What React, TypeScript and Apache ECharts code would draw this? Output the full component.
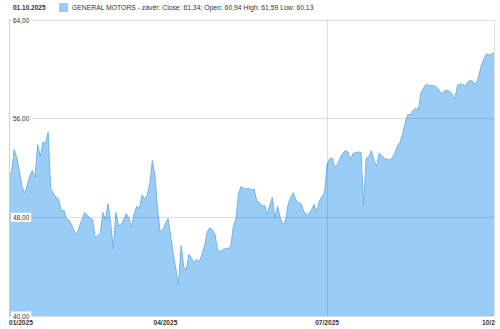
import React, { useEffect, useRef } from "react";
import * as echarts from "echarts";

// Trading calendar (NYSE holidays in the period)
const START_DATE = "2025-01-02";
const END_DATE = "2025-10-01";
const HOLIDAYS = ["2025-01-09", "2025-01-20", "2025-02-17", "2025-04-18", "2025-05-26", "2025-06-19", "2025-07-04", "2025-09-01"];

// Dates whose month label is shown, and dates carrying a vertical grid line
const LABEL_DATES = ["2025-01-02", "2025-04-01", "2025-07-01", "2025-10-01"];
const VLINE_DATES = ["2025-07-01", "2025-10-01"];

// Daily close, GENERAL MOTORS
const closes = [
  51.4, 51.7, 53.5, 52.8, 51.7, 50.5, 49.95, 50.6, 51.4, 51.8,
  51.2, 53.9, 52.9, 54.1, 54.0, 54.9, 50.3, 50.0, 49.6, 49.5,
  48.5, 48.6, 47.9, 47.8, 47.4, 46.9, 46.6, 47.3, 47.8, 48.4,
  48.2, 47.9, 47.85, 46.4, 46.5, 46.7, 48.4, 47.8, 49.1, 47.5,
  45.4, 48.4, 47.3, 47.4, 47.8, 48.3, 47.9, 47.2, 48.3, 48.9,
  48.7, 49.8, 49.5, 49.8, 50.7, 52.6, 51.3, 48.6, 46.8, 47.0,
  47.5, 47.9, 46.5, 45.0, 43.8, 42.5, 45.7, 44.0, 43.7, 45.0,
  44.7, 44.3, 44.6, 44.4, 45.0, 45.7, 46.8, 47.15, 47.0, 46.6,
  45.35, 45.2, 45.4, 45.45, 45.5, 45.55, 47.2, 47.8, 49.9, 50.5,
  50.35, 50.3, 50.35, 50.2, 50.3, 49.35, 49.2, 48.9, 49.0, 48.2,
  49.0, 49.6, 47.9, 48.9, 48.0, 47.4, 47.7, 49.0, 49.6, 50.0,
  49.4, 49.2, 49.1, 48.5, 48.2, 48.3, 48.6, 49.05, 48.4, 49.3,
  49.7, 50.0, 52.3, 52.75, 52.8, 52.0, 52.3, 52.8, 53.2, 53.4,
  53.3, 52.7, 53.2, 53.25, 53.3, 53.25, 49.0, 52.8, 52.9, 53.4,
  52.6, 52.15, 53.2, 53.0, 52.8, 52.7, 52.65, 52.8, 53.2, 53.8,
  54.1, 54.8, 55.7, 56.35, 56.3, 56.7, 56.85, 56.7, 58.1, 58.5,
  58.8, 58.7, 58.7, 58.65, 58.55, 58.3, 58.0, 58.25, 58.3, 58.2,
  58.0, 57.6, 58.7, 58.8, 58.8, 58.6, 59.0, 59.1, 59.0, 58.8,
  59.3, 60.2, 60.8, 61.25, 61.15, 61.25, 61.34,
];

const SERIES_NAME = "GENERAL MOTORS - závěr";
const LAST_DATE_LABEL = "01.10.2025";
const LAST_CLOSE = 61.34;
const LAST_OPEN = 60.94;
const LAST_HIGH = 61.59;
const LAST_LOW = 60.13;

const Y_MIN = 40;
const Y_MAX = 64;
const Y_INTERVAL = 8;

function tradingDays(): string[] {
  const out: string[] = [];
  const d = new Date(START_DATE + "T00:00:00Z");
  const end = new Date(END_DATE + "T00:00:00Z");
  while (d <= end) {
    const iso = d.toISOString().slice(0, 10);
    const wd = d.getUTCDay();
    if (wd !== 0 && wd !== 6 && !HOLIDAYS.includes(iso)) out.push(iso);
    d.setUTCDate(d.getUTCDate() + 1);
  }
  return out;
}

const fmt = (v: number) => v.toFixed(2).replace(".", ",");

export default function App() {
  const ref = useRef<HTMLDivElement>(null);
  useEffect(() => {
    if (!ref.current) return;
    const chart = echarts.init(ref.current, undefined, { renderer: "svg" });
    const dates = tradingDays();
    const font = "'Liberation Sans', Arial, sans-serif";
    chart.setOption({
      animation: false,
      backgroundColor: "#fff",
      title: {
        text: LAST_DATE_LABEL,
        left: 13,
        top: 4,
        padding: 0,
        textStyle: { fontSize: 6.5, fontWeight: "bold", color: "#333", fontFamily: font },
      },
      legend: {
        left: 59,
        top: 3,
        padding: 0,
        itemWidth: 9,
        itemHeight: 9,
        itemGap: 5,
        icon: "rect",
        textStyle: { fontSize: 6.8, color: "#333", fontFamily: font, padding: [0, 0, 0, -1] },
        formatter: (name: string) =>
          `${name}: Close: ${fmt(LAST_CLOSE)}; Open: ${fmt(LAST_OPEN)} High: ${fmt(LAST_HIGH)} Low: ${fmt(LAST_LOW)}`,
      },
      grid: { left: 9, right: 1, top: 20, bottom: 13, containLabel: false, outerBoundsMode: "none" },
      xAxis: {
        type: "category",
        data: dates,
        boundaryGap: false,
        z: 10,
        axisLine: { show: false },
        axisTick: { show: false },
        axisLabel: {
          interval: (_i: number, v: string) => LABEL_DATES.includes(v),
          formatter: (v: string) => `${v.slice(5, 7)}/${v.slice(0, 4)}`,
          fontSize: 6.6,
          fontWeight: "bold",
          color: "#333",
          fontFamily: font,
          margin: 3,
          alignMinLabel: "left",
          showMinLabel: true,
          showMaxLabel: true,
          hideOverlap: false,
        },
        splitLine: {
          show: true,
          interval: (_i: number, v: string) => VLINE_DATES.includes(v),
          lineStyle: { color: "rgba(0,0,0,0.12)", width: 1 },
        },
      },
      yAxis: {
        type: "value",
        min: Y_MIN,
        max: Y_MAX,
        interval: Y_INTERVAL,
        z: 10,
        axisLine: { show: true, lineStyle: { color: "#cfcfcf" } },
        axisTick: { show: false },
        axisLabel: {
          inside: true,
          margin: 2,
          formatter: (v: number) => fmt(v),
          fontSize: 6.5,
          color: "#333",
          fontFamily: font,
          backgroundColor: "#fff",
          padding: [1, 2, 1, 2],
        },
        splitLine: { show: true, lineStyle: { color: "rgba(0,0,0,0.12)", width: 1 } },
      },
      series: [
        {
          name: SERIES_NAME,
          type: "line",
          data: closes,
          symbol: "none",
          z: 2,
          lineStyle: { color: "#72b3ec", width: 1 },
          itemStyle: { color: "#9acdf6" },
          areaStyle: { color: "#9acdf6", opacity: 1 },
        },
      ],
    });
    return () => chart.dispose();
  }, []);
  return (
    <div
      ref={ref}
      style={{ position: "absolute", left: 0, top: 0, width: 495, height: 329, overflow: "hidden" }}
    />
  );
}
